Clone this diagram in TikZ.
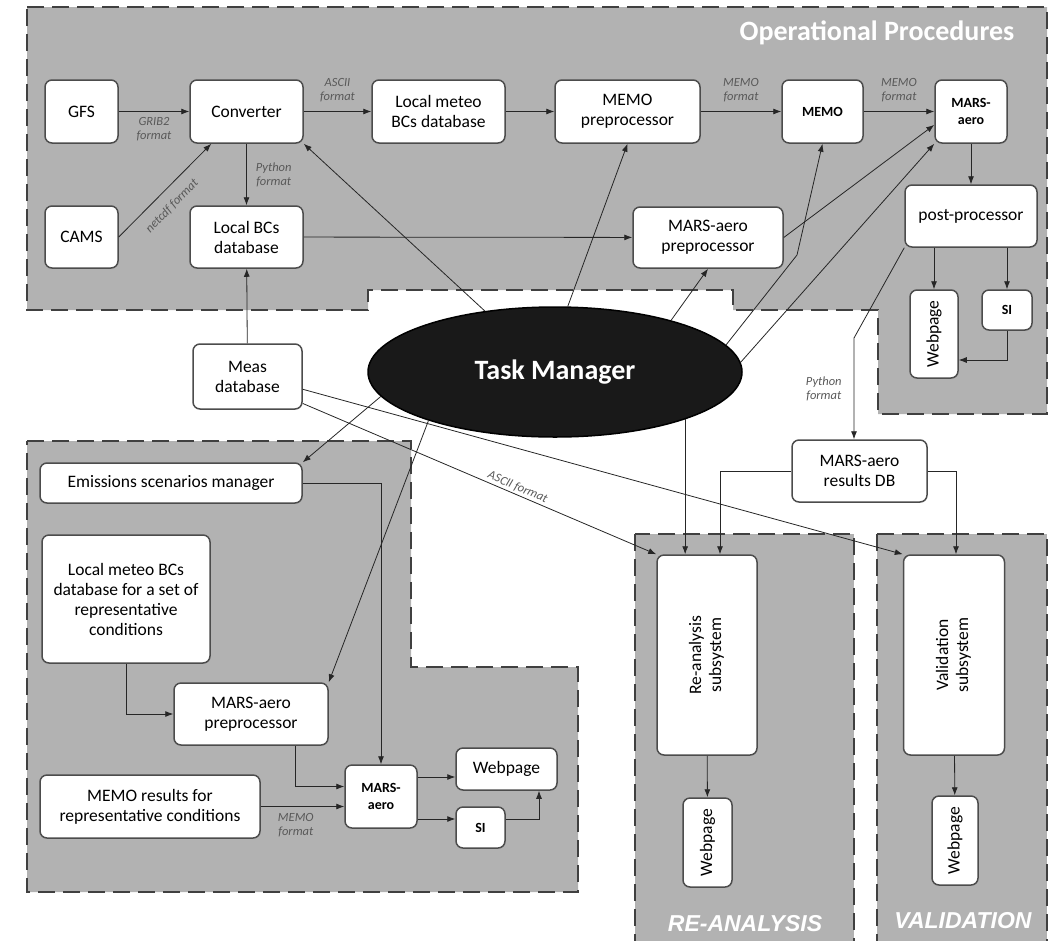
\documentclass[tikz,border=0pt]{standalone}
\usepackage{fontspec}
\setmainfont{Carlito}
\newfontfamily\zonefont{Liberation Sans}
\usepackage{graphicx}
\usetikzlibrary{arrows.meta,shapes.geometric}
\tikzset{
    block/.style={rectangle,draw=black!70,line width=1.5pt,rounded corners=7pt,fill=white,align=center,inner sep=2pt,font=\fontsize{17.5}{20}\selectfont},
    smallblock/.style={block,font=\fontsize{14}{17}\selectfont\bfseries},
    dims/.style 2 args={minimum width=#1pt,minimum height=#2pt},
    manager/.style={ellipse,draw=black,line width=1.5pt,fill=black!90,text=white,font=\fontsize{28}{30}\selectfont\bfseries},
    zone/.style={fill=black!30,draw=black!75,line width=2.4pt,dash pattern=on 17pt off 8pt},
    zonetitle/.style={text=white,font=\fontsize{28}{30}\selectfont\bfseries},
    subtitle/.style={text=white,font=\zonefont\fontsize{23}{25}\selectfont\bfseries\itshape},
    pre/.style={-{Latex[length=8pt,width=6pt]},line width=0.8pt,draw=black!85},
    fmt/.style={font=\fontsize{12.5}{14}\selectfont\itshape,text=black!65,align=center,inner sep=2pt}
}

\begin{document}
\begin{tikzpicture}[x=1pt,y=-1pt]

    \useasboundingbox (0,0) rectangle (1056,940);

    \draw[zone] (27,7) -- (1047,7) -- (1047,414) -- (878,414) -- (878,310) -- (733,310)
                -- (733,290) -- (368,290) -- (368,310) -- (27,310) -- cycle;
    \draw[zone] (27,441) -- (411,441) -- (411,667) -- (578,667) -- (578,892) -- (27,892) -- cycle;
    \draw[zone] (635,534) rectangle (854,960);
    \draw[zone] (877,534) rectangle (1047,960);

    \node[zonetitle] (op title)    at (877,33)  {Operational Procedures};
    \node[subtitle]  (reana title) at (745,924) {RE-ANALYSIS};
    \node[subtitle]  (valid title) at (963,921) {VALIDATION};

    \node[block,dims={73}{63}]       (gfs)         at (81.5,111.5)  {GFS};
    \node[block,dims={113}{63}]      (converter)   at (246.5,111.5) {Converter};
    \node[block,dims={73}{62}]       (cams)        at (81.5,237)    {CAMS};
    \node[block,dims={113}{62}]      (local bcs)   at (246.5,237)   {Local BCs\\database};
    \node[block,dims={133}{63}]      (local meteo) at (438.5,111.5) {Local meteo\\BCs database};
    \node[block,dims={145}{63}]      (memo pre)    at (627.5,111.5) {MEMO\\preprocessor};
    \node[smallblock,dims={81}{63}]  (memo)        at (822.5,111.5) {MEMO};
    \node[smallblock,dims={72}{63}]  (mars)        at (971,111.5)   {MARS-\\aero};
    \node[block,dims={150}{61}]      (mars pre)    at (708,237.5)   {MARS-aero\\preprocessor};
    \node[block,dims={132}{62}]      (post)        at (971,216)     {post-processor};
    \node[block,dims={48}{88}]       (web op)      at (934,334)     {\rotatebox{90}{Webpage}};
    \node[smallblock,dims={50}{40}]  (si op)       at (1007,310)    {SI};

    \node[block,dims={109}{65}]      (meas)        at (247.5,376.5) {Meas\\database};
    \node[manager,dims={374}{130}]   (task)        at (555,372)     {Task Manager};
    \node[block,dims={135}{62}]      (results db)  at (859.5,471)   {MARS-aero\\results DB};

    \node[block,dims={262}{40}]      (emis)        at (171,483)     {Emissions scenarios manager};
    \node[block,dims={168}{128}]     (meteo set)   at (126,599)     {Local meteo BCs\\database for a set of\\representative\\conditions};
    \node[block,dims={154}{62}]      (mars pre 2)  at (251,714)     {MARS-aero\\preprocessor};
    \node[block,dims={220}{63}]      (memo res)    at (150,806.5)   {MEMO results for\\representative conditions};
    \node[smallblock,dims={72}{63}]  (mars 2)      at (381,796.5)   {MARS-\\aero};
    \node[block,dims={101}{42}]      (web 2)       at (506.5,769)   {Webpage};
    \node[smallblock,dims={49}{41}]  (si 2)        at (480.5,827.5) {SI};

    \node[block,dims={100}{200}]     (reana)       at (707,655)     {\rotatebox{90}{\begin{tabular}{@{}c@{}}Re-analysis\\subsystem\end{tabular}}};
    \node[block,dims={101}{200}]     (valid)       at (954,655)     {\rotatebox{90}{\begin{tabular}{@{}c@{}}Validation\\subsystem\end{tabular}}};
    \node[block,dims={49}{89}]       (web reana)   at (707.5,842.5) {\rotatebox{90}{Webpage}};
    \node[block,dims={46}{89}]       (web valid)   at (955,840.5)   {\rotatebox{90}{Webpage}};

    \node[fmt,rotate=46]             (netcdf)      at (172,206)     {netcdf format};

    \coordinate (memo bend) at (797,255);
    \coordinate (post bend) at (854,338);

    \draw[pre] (gfs) -- node[fmt,below=3pt] {GRIB2\\format} (converter);
    \draw[pre] (cams.east) -- ([xshift=22pt]converter.south west);
    \draw[pre] (converter) -- node[fmt,right=7pt] {Python\\format} (local bcs);
    \draw[pre] (converter) -- node[fmt,above=7pt] {ASCII\\format} (local meteo);
    \draw[pre] (local meteo) -- (memo pre);
    \draw[pre] (memo pre) -- node[fmt,above=7pt] {MEMO\\format} (memo);
    \draw[pre] (memo) -- node[fmt,above=7pt] {MEMO\\format} (mars);
    \draw[pre] (local bcs) -- (mars pre);
    \draw[pre] (mars pre.east) -- (mars.200);
    \draw[pre] (mars) -- (post);
    \draw[pre] (post.south -| web op) -- (web op);
    \draw[pre] (post.south -| si op) -- (si op);
    \draw[pre] (si op.south) |- ([yshift=-26pt]web op.east);
    \draw[pre] (meas) -- (local bcs);

    \draw[pre] (task.139) -- (converter.south east);
    \draw[pre] (task.79) -- (memo pre.south);
    \draw[pre] (task.24) -- (mars pre.south);
    \draw[pre] (task.9) -- (memo bend) -- (memo.south);
    \draw[pre] (task.3) -- (mars.south west);
    \draw[pre] (task.-20) -- (task.-20 |- reana.north);
    \draw[pre] (task.-172) -- (emis.north east);
    \draw[pre] (task.-159) -- (mars pre 2.north east);

    \draw[pre] (post.south west) -- (post bend) -- node[fmt,left=10pt] {Python\\format} (post bend |- results db.north);
    \draw[pre] (results db.west) -| ([xshift=13pt]reana.north);
    \draw[pre] (results db.east) -| ([xshift=2pt]valid.north);
    \draw[pre] (meas.-26) -- node[fmt,sloped,above,pos=0.6] {ASCII format} (reana.north west);
    \draw[pre] (meas.-13) -- (valid.north west);
    \draw[pre] (reana) -- (web reana);
    \draw[pre] (valid) -- (web valid);

    \draw[pre] (emis) -| (mars 2);
    \draw[pre] (meteo set) |- (mars pre 2);
    \draw[pre] ([xshift=44pt]mars pre 2.south) |- ([yshift=10pt]mars 2.west);
    \draw[pre] (memo res) -- node[fmt,below=4pt,pos=0.42] {MEMO\\format} (memo res -| mars 2.west);
    \draw[pre] ([yshift=19.5pt]mars 2.east) -- ([yshift=19.5pt]mars 2.east -| web 2.west);
    \draw[pre] ([yshift=-22.5pt]mars 2.east) -- ([yshift=-22.5pt]mars 2.east -| si 2.west);
    \draw[pre] ([yshift=8.5pt]si 2.east) -| ([xshift=32.5pt]web 2.south);

\end{tikzpicture}
\end{document}
